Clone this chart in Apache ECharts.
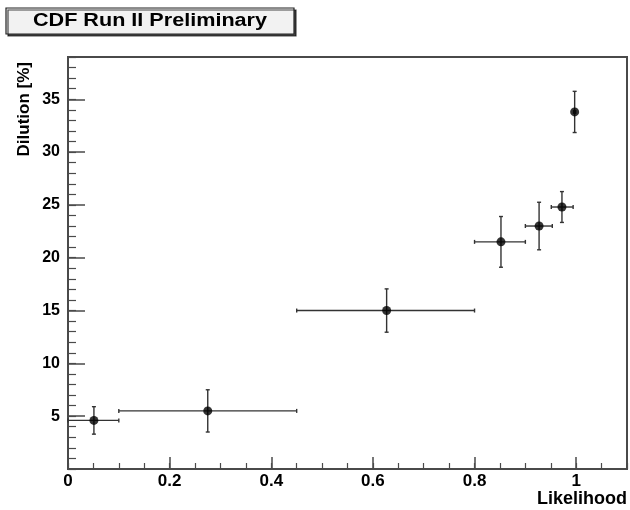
<!DOCTYPE html>
<html>
<head>
<meta charset="utf-8">
<script src="https://cdn.jsdelivr.net/npm/echarts@6/dist/echarts.min.js"></script>
<style>
html,body{margin:0;padding:0;background:#fff;}
#chart{width:630px;height:510px;}
</style>
</head>
<body>
<div id="chart"></div>
<script>
// Data
const likelihood = [0.051, 0.275, 0.627, 0.852, 0.927, 0.972, 0.997];
const dilution   = [4.6, 5.5, 15.0, 21.5, 23.0, 24.8, 33.8];
const xLow       = [0.0, 0.1, 0.45, 0.80, 0.90, 0.951, 0.995];
const xHigh      = [0.1, 0.45, 0.80, 0.90, 0.953, 0.994, 0.999];
const dilErr     = [1.3, 2.0, 2.05, 2.4, 2.25, 1.46, 1.95];
const xTickLabels = [0, 0.2, 0.4, 0.6, 0.8, 1];
const yTickLabels = [5, 10, 15, 20, 25, 30, 35];
const titleText = 'CDF Run II Preliminary';
const xName = 'Likelihood';
const yName = 'Dilution [%]';

const FONT = 'Liberation Sans';
const AX = '#4a4a4a';

const pts = likelihood.map((x, i) => [x, dilution[i], xLow[i], xHigh[i], dilErr[i]]);

const chart = echarts.init(document.getElementById('chart'), null, {renderer: 'canvas'});
const option = {
  animation: false,
  backgroundColor: '#fff',
  grid: {
    left: 68, top: 57, width: 560, height: 412,
    show: true, borderColor: AX, borderWidth: 2, backgroundColor: 'transparent'
  },
  graphic: [
    {
      type: 'rect', z: 10,
      shape: {x: 6, y: 8, width: 288, height: 26},
      style: {fill: '#f2f2f2', stroke: '#222', lineWidth: 1.2,
              shadowColor: 'rgba(0,0,0,0.7)', shadowOffsetX: 2, shadowOffsetY: 2, shadowBlur: 0}
    },
    {
      type: 'text', z: 11, x: 150, y: 21, scaleX: 1.2,
      style: {text: titleText, x: 0, y: 0, align: 'center', verticalAlign: 'middle',
              font: 'bold 18px "' + FONT + '"', fill: '#000'}
    }
  ],
  xAxis: [
    {
      type: 'value', min: 0, max: 1.1, interval: 0.2, position: 'bottom',
      axisLine: {show: true, onZero: false, lineStyle: {color: AX, width: 2}},
      axisTick: {show: true, inside: true, length: 12, customValues: xTickLabels,
                 lineStyle: {color: AX, width: 1.5}},
      axisLabel: {show: true, customValues: xTickLabels, margin: 4, color: '#000',
                  fontFamily: FONT, fontWeight: 'bold', fontSize: 17,
                  formatter: v => String(Math.round(v * 10) / 10)},
      splitLine: {show: false},
      name: xName, nameLocation: 'end', nameGap: 0,
      nameTextStyle: {fontFamily: FONT, fontWeight: 'bold', fontSize: 18, color: '#000',
                      align: 'right', verticalAlign: 'top', padding: [21, 0, 0, 0]}
    },
    {
      type: 'value', min: 0, max: 1.1, interval: 0.05, position: 'bottom',
      axisLine: {show: false},
      axisTick: {show: true, inside: true, length: 6, lineStyle: {color: AX, width: 1.2}},
      axisLabel: {show: false},
      splitLine: {show: false}
    }
  ],
  yAxis: [
    {
      type: 'value', min: 0, max: 39, interval: 5, position: 'left',
      axisLine: {show: true, onZero: false, lineStyle: {color: AX, width: 2}},
      axisTick: {show: true, inside: true, length: 17, customValues: yTickLabels,
                 lineStyle: {color: AX, width: 1.5}},
      axisLabel: {show: true, customValues: yTickLabels, margin: 8, color: '#000',
                  fontFamily: FONT, fontWeight: 'bold', fontSize: 16},
      splitLine: {show: false},
      name: yName, nameLocation: 'end', nameGap: -5, nameRotate: 90, nameMoveOverlap: false,
      nameTextStyle: {fontFamily: FONT, fontWeight: 'bold', fontSize: 17, color: '#000',
                      align: 'right', verticalAlign: 'bottom', padding: [0, 0, 35, 0]}
    },
    {
      type: 'value', min: 0, max: 39, interval: 1, position: 'left',
      axisLine: {show: false},
      axisTick: {show: true, inside: true, length: 8, lineStyle: {color: AX, width: 1.2}},
      axisLabel: {show: false},
      splitLine: {show: false}
    }
  ],
  series: [
    {
      type: 'custom', xAxisIndex: 0, yAxisIndex: 0, z: 3,
      data: pts,
      renderItem: function (params, api) {
        const x = api.value(0), y = api.value(1), xl = api.value(2), xh = api.value(3), e = api.value(4);
        const pL = api.coord([xl, y]), pR = api.coord([xh, y]);
        const pT = api.coord([x, y + e]), pB = api.coord([x, y - e]);
        const c = 2;
        const st = {stroke: '#333', lineWidth: 1.4};
        return {
          type: 'group',
          children: [
            {type: 'line', shape: {x1: pL[0], y1: pL[1], x2: pR[0], y2: pR[1]}, style: st},
            {type: 'line', shape: {x1: pL[0], y1: pL[1] - c, x2: pL[0], y2: pL[1] + c}, style: st},
            {type: 'line', shape: {x1: pR[0], y1: pR[1] - c, x2: pR[0], y2: pR[1] + c}, style: st},
            {type: 'line', shape: {x1: pT[0], y1: pT[1], x2: pB[0], y2: pB[1]}, style: st},
            {type: 'line', shape: {x1: pT[0] - c, y1: pT[1], x2: pT[0] + c, y2: pT[1]}, style: st},
            {type: 'line', shape: {x1: pB[0] - c, y1: pB[1], x2: pB[0] + c, y2: pB[1]}, style: st}
          ]
        };
      }
    },
    {
      type: 'scatter', xAxisIndex: 0, yAxisIndex: 0, z: 4,
      data: likelihood.map((x, i) => [x, dilution[i]]),
      symbol: 'circle', symbolSize: 9,
      itemStyle: {color: '#000'}
    }
  ]
};
chart.setOption(option);
</script>
</body>
</html>
